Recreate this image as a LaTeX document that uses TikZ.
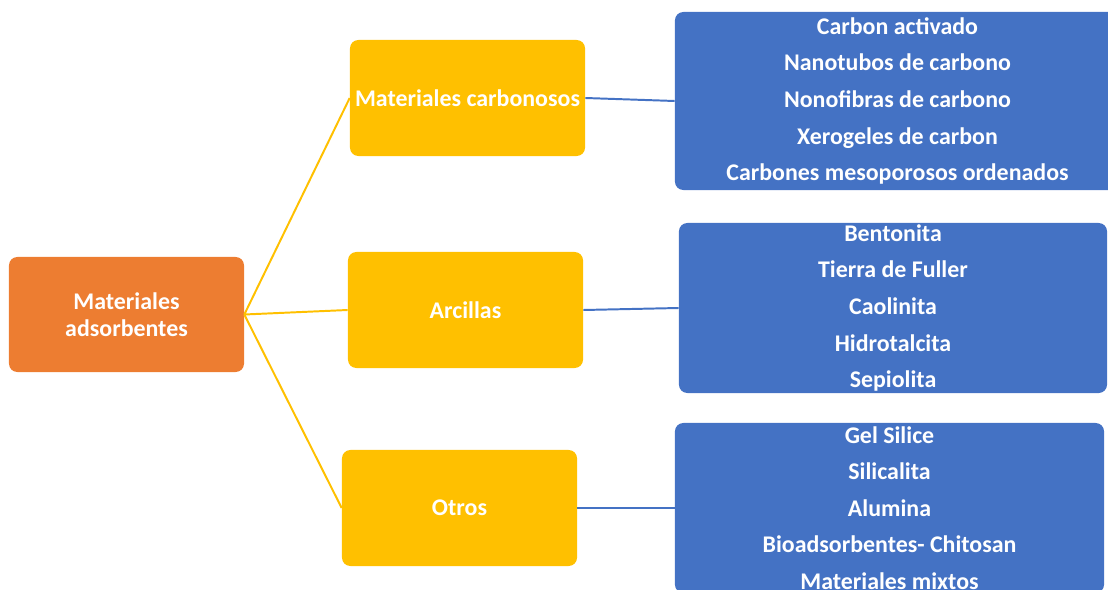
\documentclass[tikz,border=0pt]{standalone}
\usepackage{fontspec}
\setmainfont{Carlito}
\usetikzlibrary{positioning}
\definecolor{rootorange}{HTML}{ED7D31}
\definecolor{midyellow}{HTML}{FFC000}
\definecolor{listblue}{HTML}{4472C4}

\begin{document}
\begin{tikzpicture}[x=0.025cm, y=-0.025cm,
		box/.style={rounded corners=6pt, text=white, align=center, inner sep=0pt,
			font=\bfseries\fontsize{17}{19.3}\selectfont},
		rootbox/.style={box, fill=rootorange, minimum width=5.875cm, minimum height=2.875cm},
		midbox/.style={box, fill=midyellow, minimum width=5.875cm, minimum height=2.9cm},
		listbox/.style={box, fill=listblue, font=\bfseries\fontsize{17}{26}\selectfont},
		yline/.style={draw=midyellow, line width=1.4pt},
		bline/.style={draw=listblue, line width=1.4pt} ]
		\useasboundingbox (0,0) rectangle (1108,590);
		\node[rootbox] (root) at (126.5,314.5) {Materiales\\adsorbentes};
		\node[midbox] (carb) at (467.5,98) {Materiales carbonosos};
		\node[midbox] (arc) at (465.5,310) {Arcillas};
		\node[midbox] (otros) at (459.5,508) {Otros};
		\node[listbox, minimum width=11.125cm, minimum height=4.45cm] (carblist) at (897.5,101)
			{Carbon activado\\Nanotubos de carbono\\Nonofibras de carbono\\Xerogeles de carbon\\Carbones mesoporosos ordenados};
		\node[listbox, minimum width=10.7cm, minimum height=4.25cm] (arclist) at (893,308)
			{Bentonita\\Tierra de Fuller\\Caolinita\\Hidrotalcita\\Sepiolita};
		\node[listbox, minimum width=10.725cm, minimum height=4.25cm] (otroslist) at (889.5,508)
			{Gel Silice\\Silicalita\\Alumina\\Bioadsorbentes- Chitosan\\Materiales mixtos};
		% ramas
		\draw[yline] (root.east) -- (carb.west);
		\draw[yline] (root.east) -- (arc.west);
		\draw[yline] (root.east) -- (otros.west);
		\draw[bline] (carb.east) -- (carblist.west);
		\draw[bline] (arc.east) -- (arclist.west);
		\draw[bline] (otros.east) -- (otroslist.west);
	\end{tikzpicture}
\end{document}
